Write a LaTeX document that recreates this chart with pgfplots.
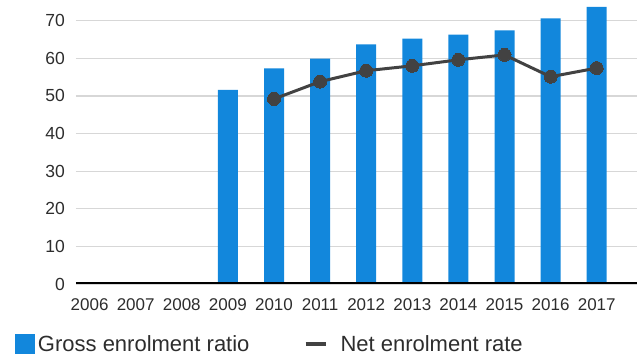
\documentclass[border=0pt]{standalone}
\usepackage{pgfplots}
\pgfplotsset{compat=1.18}
\usepackage{fontspec}
\setmainfont{Liberation Sans}
\definecolor{barblue}{RGB}{18,135,220}
\definecolor{linegray}{RGB}{66,66,66}
\definecolor{gridgray}{RGB}{215,215,215}
\definecolor{textgray}{RGB}{45,45,45}
\begin{document}
\begin{tikzpicture}
\begin{axis}[
  at={(0,0)}, anchor=south west,
  scale only axis, width=561pt, height=284pt,
  xmin=-0.295, xmax=11.874, ymin=0, ymax=75.5,
  xtick={0,1,2,3,4,5,6,7,8,9,10,11},
  xticklabels={2006,2007,2008,2009,2010,2011,2012,2013,2014,2015,2016,2017},
  ytick={0,10,20,30,40,50,60,70},
  ymajorgrids, grid style={gridgray, line width=1.2pt},
  major tick length=0pt,
  axis line style={draw=none},
  tick label style={text=textgray},
  yticklabel style={anchor=east, inner sep=0pt, xshift=-11pt, font=\fontsize{17.5}{17.5}\selectfont},
  xticklabel style={anchor=north, inner sep=0pt, yshift=-14pt, font=\fontsize{17}{17}\selectfont},
  /pgf/number format/assume math mode=true,
  legend columns=2,
  legend style={draw=none, fill=none, at={(-0.10873,-0.17606)}, anchor=north west,
    inner sep=0pt, outer sep=0pt, font=\fontsize{22}{24}\selectfont, text=textgray,
    nodes={inner sep=0pt}, column sep=3pt,
    /tikz/every even column/.append style={column sep=54pt}},
]
\addplot[ybar, bar width=20pt, fill=barblue, draw=none,
  legend image code/.code={\fill[barblue] (0pt,-10pt) rectangle (20pt,10pt);}]
  coordinates {(3,51.6) (4,57.3) (5,59.9) (6,63.7) (7,65.2) (8,66.3) (9,67.4) (10,70.6) (11,73.7)};
\addlegendentry{Gross enrolment ratio}
\addplot[linegray, line width=3pt, mark=*, mark size=6.5pt,
  mark options={fill=linegray, draw=linegray, line width=0pt},
  legend image code/.code={\path[draw=none,fill=none] (0pt,-10pt) rectangle (32pt,10pt); \draw[linegray, line width=4pt] (0pt,0pt) -- (20pt,0pt);}]
  coordinates {(4,49.2) (5,53.8) (6,56.7) (7,58.0) (8,59.6) (9,60.9) (10,55.1) (11,57.4)};
\addlegendentry{Net enrolment rate}
\draw[black, line width=3pt] (rel axis cs:0,0) -- (rel axis cs:1,0);
\end{axis}
\pgfresetboundingbox
\path (-76pt,-74pt) rectangle (565pt,284pt);
\end{tikzpicture}
\end{document}
